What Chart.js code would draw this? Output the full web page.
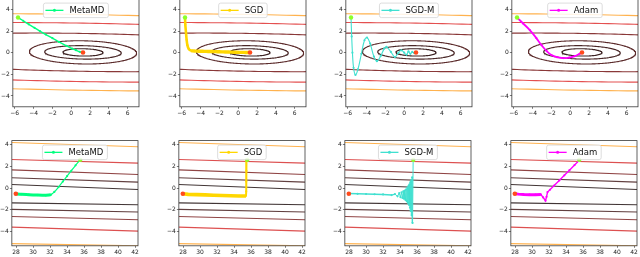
<!DOCTYPE html>
<html lang="en">
<head>
<meta charset="utf-8">
<title>Optimizer trajectories</title>
<script src="https://cdn.jsdelivr.net/npm/chart.js"></script>
<style>
  html, body { margin: 0; background: #fff; }
  #page { position: relative; width: 640px; height: 257px; overflow: hidden; }
  #page canvas { position: absolute; }
</style>
</head>
<body>
<div id="page"></div>
<script>
const methods = ["MetaMD", "SGD", "SGD-M", "Adam"]

// top row: elongated bowl
const topXTicks = [-6, -4, -2, 0, 2, 4, 6]
const topYTicks = [-4, -2, 0, 2, 4]
const topXRange = [-6.2, 7.2]
const topYRange = [-5, 5]
const topCenter = [1.25, 0.03]
const topTilt = 0.014
const topRx = [2.13, 4.07, 5.7, 25, 40, 55]
const topRy = [0.34, 0.62, 1.07, 1.75, 2.7, 3.5]
const topStart = [-5.65, 3.25]
const topEnd = [1.25, 0.02]

const topMetaMD = [[-5.65, 3.25], [-5.1, 2.95], [-4.5, 2.62], [-3.9, 2.3], [-3.33, 2.0], [-2.7, 1.68], [-2.0, 1.35], [-1.3, 1.0], [-0.5, 0.63], [0.1, 0.38], [0.5, 0.23], [0.9, 0.09], [1.25, 0.02]]
const topSGD = [[-5.65, 3.25], [-5.62, 2.6], [-5.55, 1.9], [-5.48, 1.2], [-5.4, 0.7], [-5.25, 0.35], [-5.0, 0.2], [-4.6, 0.15], [-4.2, 0.14], [-3.8, 0.13], [-3.4, 0.12], [-3.0, 0.11], [-2.6, 0.1], [-2.2, 0.09], [-1.8, 0.08], [-1.4, 0.07], [-1.0, 0.06], [-0.6, 0.05], [-0.2, 0.04], [0.2, 0.03], [0.6, 0.03], [0.9, 0.02], [1.25, 0.02]]
const topSGDM = [[-5.65, 3.25], [-5.58, 1.5], [-5.5, 0], [-5.38, -1.4], [-5.18, -2.05], [-4.92, -1.55], [-4.55, -0.1], [-4.22, 1.15], [-3.95, 1.4], [-3.62, 0.85], [-3.22, -0.35], [-2.9, -0.78], [-2.5, -0.3], [-2.12, 0.38], [-1.88, 0.53], [-1.42, 0.08], [-1.0, -0.4], [-0.62, -0.02], [-0.3, 0.22], [0, 0], [0.25, -0.19], [0.45, 0.12], [0.65, -0.1], [0.85, 0.07], [1.05, -0.03], [1.25, 0.02]]
const topAdam = [[-5.65, 3.25], [-5.0, 2.7], [-4.29, 2.09], [-3.6, 1.35], [-3.05, 0.7], [-2.5, 0.15], [-2.0, -0.22], [-1.4, -0.42], [-0.75, -0.5], [-0.1, -0.45], [0.49, -0.31], [1.0, -0.1], [1.25, 0.02]]

// bottom row: tilted valley
const botXTicks = [28, 30, 32, 34, 36, 38, 40, 42]
const botYTicks = [-4, -2, 0, 2, 4]
const botXRange = [27.5, 42.35]
const botYRange = [-5.3, 4.37]
const botLeftY = [4.2, 2.63, 1.68, 0.95, 0.34, -1.35, -1.95, -2.6, -3.58, -5.1]
const botRightY = [3.8, 2.3, 1.25, 0.55, -0.12, -1.53, -2.2, -2.9, -3.95, -5.3]
const botStart = [35.55, 2.6]
const botEnd = [27.97, -0.52]

const botMetaMD = [[35.55, 2.6], [35.0, 2.1], [34.5, 1.6], [34.0, 1.1], [33.5, 0.6], [33.0, 0.1], [32.5, -0.35], [32.1, -0.6], [31.5, -0.66], [30.5, -0.64], [29.5, -0.6], [28.6, -0.57], [27.97, -0.52]]
const botSGD = [[35.46, 2.6], [35.45, 1.6], [35.43, 0.6], [35.42, -0.3], [35.4, -0.72], [34.6, -0.72], [33.6, -0.7], [32.6, -0.68], [31.6, -0.65], [30.6, -0.62], [29.6, -0.6], [28.6, -0.57], [27.97, -0.52]]
const botSGDM = [[35.54, 2.6], [35.47, -3.2], [35.42, 1.0], [35.37, -2.5], [35.32, 0.75], [35.27, -2.1], [35.22, 0.55], [35.17, -1.8], [35.12, 0.35], [35.06, -1.55], [35.0, 0.2], [34.93, -1.35], [34.86, 0.05], [34.79, -1.2], [34.72, -0.1], [34.64, -1.08], [34.56, -0.22], [34.47, -0.98], [34.38, -0.3], [34.28, -0.9], [34.17, -0.38], [34.05, -0.83], [33.9, -0.45], [33.7, -0.75], [33.4, -0.55], [33.0, -0.64], [32.0, -0.58], [31.0, -0.56], [30.0, -0.54], [29.0, -0.52], [27.97, -0.5]]
const botAdam = [[35.62, 2.6], [35.0, 2.12], [34.4, 1.65], [33.8, 1.18], [33.2, 0.71], [32.6, 0.24], [32.1, -0.15], [31.82, -0.36], [31.7, -0.8], [31.58, -1.16], [31.3, -0.85], [31.03, -0.58], [30.4, -0.6], [29.7, -0.6], [29.0, -0.58], [28.4, -0.55], [27.97, -0.52]]

// styles
const methodColors = ["#00ff7f", "#ffd700", "#40e0d0", "#ff00ff"]
const startColor = "#8cff2a"
const endColor = "#ff4a1c"
const topContourColors = ["#3e2424", "#4a2828", "#5c2c2c", "#8a3838", "#e45050", "#ffb24e"]
const botContourColors = ["#ffb24e", "#dd5050", "#904444", "#624040", "#423636", "#423636", "#624040", "#904444", "#dd5050", "#ffb24e"]

Chart.defaults.font.family = "'DejaVu Sans', sans-serif"

const xy = p => ({x: p[0], y: p[1]})

function ellipse(k) {
	const pts = []
	for (let d = 0; d <= 360; d++) {
		const t = d * Math.PI / 180
		const dx = topRx[k] * Math.cos(t)
		pts.push({x: topCenter[0] + dx, y: topCenter[1] + topRy[k] * Math.sin(t) - topTilt * dx})
	}
	return pts
}

const rows = [
	{
		xr: topXRange, yr: topYRange, xt: topXTicks, yt: topYTicks,
		contours: () => topRx.map((_, k) => ellipse(k)),
		colors: topContourColors,
		paths: [topMetaMD, topSGD, topSGDM, topAdam],
		start: topStart, end: topEnd,
		tension: [0.3, 0.3, 0.4, 0.4],
		width: [1.4, 2.6, 1.1, 1.8], band: [1.4, 3.4, 1.1, 1.8],
		boxes: [13, 180, 346, 512].map(x => ({x, y: -1, w: 126, h: 108.5}))
	},
	{
		xr: botXRange, yr: botYRange, xt: botXTicks, yt: botYTicks,
		contours: () => botLeftY.map((v, k) => [{x: botXRange[0], y: v}, {x: botXRange[1], y: botRightY[k]}]),
		colors: botContourColors,
		paths: [botMetaMD, botSGD, botSGDM, botAdam],
		start: botStart, end: botEnd,
		tension: [0.2, 0, 0, 0],
		width: [1.2, 2, 1, 1.4], band: [3, 3.6, 1.5, 3],
		boxes: [12, 179, 345, 511].map(x => ({x, y: 141, w: 126, h: 105}))
	}
]

function boxPlugin(label, color) {
	return {
		id: "box",
		afterDatasetsDraw(chart) {
			const {ctx, chartArea: a} = chart
			ctx.save()
			ctx.strokeStyle = "#3a3a3a"
			ctx.lineWidth = 0.8
			ctx.strokeRect(a.left, a.top, a.right - a.left, a.bottom - a.top)
			ctx.font = "8.5px 'DejaVu Sans'"
			const tw = ctx.measureText(label).width
			const w = 26 + tw + 4, h = 14.5
			const x = (a.left + a.right) / 2 - w / 2, y = a.top + 4.5
			ctx.beginPath()
			if (ctx.roundRect) ctx.roundRect(x, y, w, h, 2)
			else ctx.rect(x, y, w, h)
			ctx.fillStyle = "rgba(255,255,255,0.85)"
			ctx.fill()
			ctx.strokeStyle = "#d4d4d4"
			ctx.stroke()
			const my = y + h / 2
			ctx.strokeStyle = color
			ctx.lineWidth = 1.3
			ctx.beginPath()
			ctx.moveTo(x + 2, my)
			ctx.lineTo(x + 20, my)
			ctx.stroke()
			ctx.fillStyle = color
			ctx.beginPath()
			ctx.arc(x + 11, my, 1.5, 0, Math.PI * 2)
			ctx.fill()
			ctx.fillStyle = "#111"
			ctx.textBaseline = "middle"
			ctx.fillText(label, x + 26, my + 0.5)
			ctx.restore()
		}
	}
}

const fmt = v => (v < 0 ? "\u2212" : "") + Math.abs(v)

function axis(range, ticks) {
	return {
		type: "linear",
		min: range[0],
		max: range[1],
		afterBuildTicks: s => { s.ticks = ticks.map(v => ({value: v})) },
		ticks: {font: {size: 6}, color: "#222", padding: 1, callback: fmt, maxRotation: 0, autoSkip: false},
		grid: {display: true, drawOnChartArea: false, drawTicks: true, tickLength: 2, color: "#444", lineWidth: 0.7},
		border: {display: false}
	}
}

function makeConfig(r, i) {
	return () => {
		const datasets = []
		r.contours().forEach((pts, k) => datasets.push({
			data: pts, showLine: true, borderColor: r.colors[k], borderWidth: 1.1,
			pointRadius: 0, tension: 0, order: 3, clip: 0
		}))
		const c = methodColors[i], base = r.width[i], band = r.band[i]
		datasets.push({
			data: r.paths[i].map(xy), showLine: true, borderColor: c, backgroundColor: c,
			borderWidth: base, pointRadius: 1.1, pointBorderWidth: 0, tension: r.tension[i],
			segment: {borderWidth: s => Math.abs(s.p1.y - s.p0.y) < 0.35 * Math.abs(s.p1.x - s.p0.x) ? band : base},
			order: 2, clip: 0
		})
		datasets.push({data: [xy(r.start)], pointRadius: 2.2, pointBorderWidth: 0, backgroundColor: startColor, order: 1})
		datasets.push({data: [xy(r.end)], pointRadius: 2.3, pointBorderWidth: 0, backgroundColor: endColor, order: 1})
		return {
			type: "scatter",
			data: {datasets},
			options: {
				responsive: false,
				maintainAspectRatio: false,
				animation: false,
				events: [],
				layout: {padding: 0},
				plugins: {legend: {display: false}, tooltip: {enabled: false}},
				scales: {x: axis(r.xr, r.xt), y: axis(r.yr, r.yt)}
			},
			plugins: [boxPlugin(methods[i], c)]
		}
	}
}

function place(box, config) {
	const page = document.getElementById("page")
	const probe = document.createElement("canvas")
	probe.width = box.w + 60
	probe.height = box.h + 40
	page.appendChild(probe)
	const test = new Chart(probe, config())
	const a = test.chartArea
	const l = a.left, t = a.top, r = test.width - a.right, b = test.height - a.bottom
	test.destroy()
	probe.remove()

	const cv = document.createElement("canvas")
	cv.width = Math.round(box.w + l + r)
	cv.height = Math.round(box.h + t + b)
	page.appendChild(cv)
	const chart = new Chart(cv, config())
	const c = chart.chartArea
	cv.style.left = Math.round(box.x - c.left) + "px"
	cv.style.top = Math.round(box.y - c.top) + "px"
}

rows.forEach(r => r.boxes.forEach((box, i) => place(box, makeConfig(r, i))))
</script>
</body>
</html>
